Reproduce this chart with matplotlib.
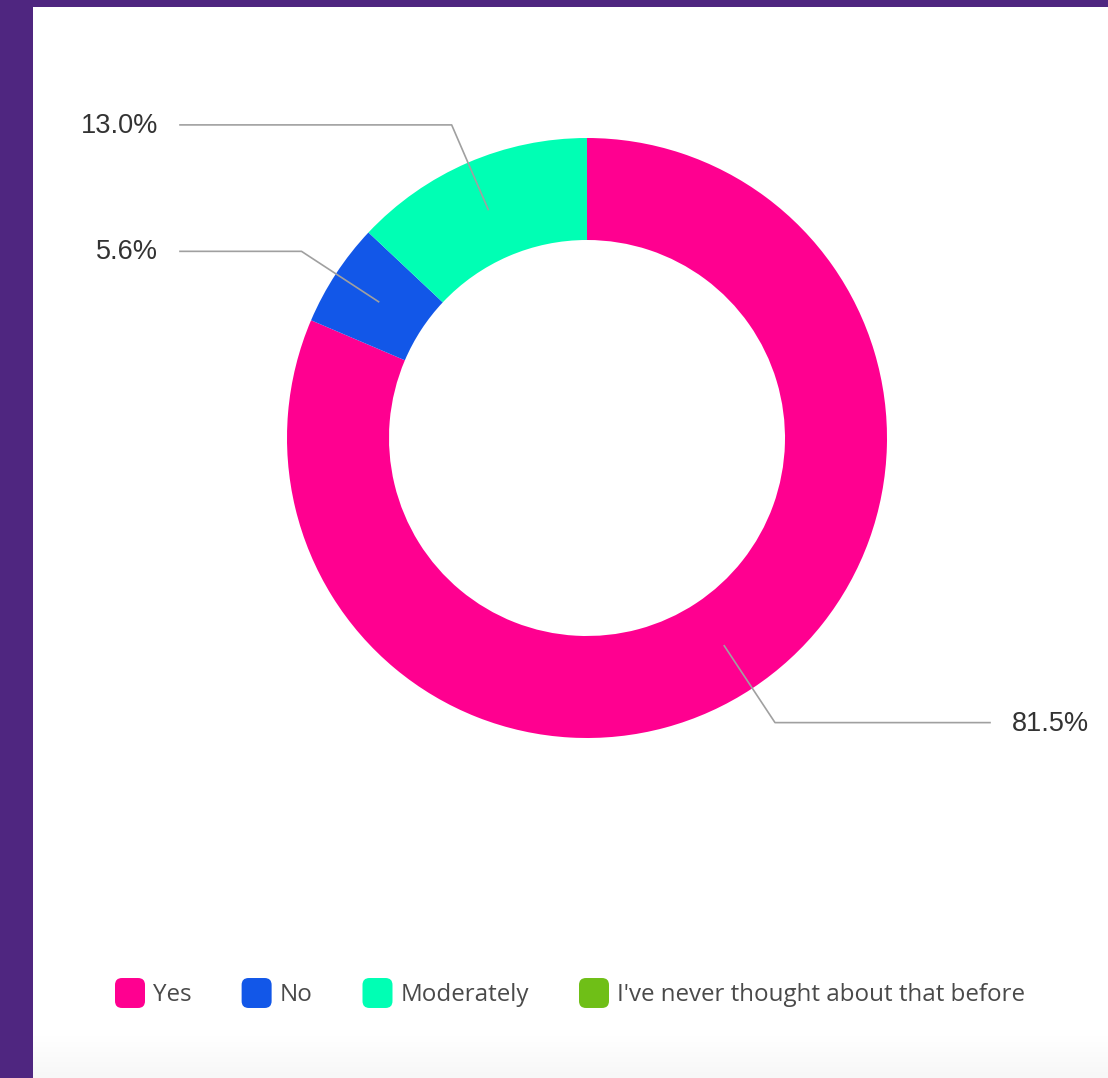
import numpy as np
import matplotlib.pyplot as plt
from matplotlib.patches import Rectangle, FancyBboxPatch
from matplotlib.legend_handler import HandlerPatch
from matplotlib.colors import LinearSegmentedColormap

# data
labels = ['Yes', 'No', 'Moderately', "I've never thought about that before"]
values = [81.5, 5.6, 13.0, 0.0]
colors = ['#FF0090', '#1257E8', '#00FFB4', '#6FBF17']
pct_text = ['81.5%', '5.6%', '13.0%', None]

W, H = 1108, 1078
fig = plt.figure(figsize=(W / 100, H / 100), dpi=100)
fig.patch.set_facecolor('#4F2680')

# white panel (pixels -> figure fraction)
fig.patches.append(Rectangle((33 / W, 0), 1, 1 - 7 / H, transform=fig.transFigure,
                             facecolor='white', edgecolor='none', zorder=-2))

# faint grey fade at the bottom
gax = fig.add_axes([33 / W, 0, 1 - 33 / W, 42 / H], zorder=-1)
grad = np.linspace(0, 1, 64).reshape(-1, 1)
gax.imshow(grad, aspect='auto', origin='lower', extent=(0, 1, 0, 1),
           cmap=LinearSegmentedColormap.from_list('fade', ['#f7f7f7', '#ffffff']))
gax.axis('off')

ax = fig.add_axes([0, 0, 1, 1], zorder=1)
ax.patch.set_alpha(0)

cx, cy = 587, H - 438
R = 300
ring = 102

wedges, _ = ax.pie(values, colors=colors, startangle=90, counterclock=False,
                   center=(cx, cy), radius=R,
                   wedgeprops=dict(width=ring, edgecolor='none', linewidth=0))
ax.set_xlim(0, W)
ax.set_ylim(0, H)
ax.set_aspect('equal')
ax.axis('off')

# leader lines + percentage labels
rmid = R - ring / 2
relb = R * 1.137
for w, txt in zip(wedges, pct_text):
    if txt is None:
        continue
    ang = np.deg2rad((w.theta1 + w.theta2) / 2)
    x0, y0 = cx + rmid * np.cos(ang), cy + rmid * np.sin(ang)
    x1, y1 = cx + relb * np.cos(ang), cy + relb * np.sin(ang)
    if np.cos(ang) < 0:
        x2, tx, ha = 180, 158, 'right'
    else:
        x2, tx, ha = 990, 1012, 'left'
    ax.plot([x0, x1, x2], [y0, y1, y1], color='#a0a0a0', lw=1.2, zorder=5)
    ax.text(tx, y1 - 1, txt, ha=ha, va='center', fontsize=19.5,
            family='Liberation Sans', color='#333333')


class RoundHandler(HandlerPatch):
    def create_artists(self, legend, orig_handle, xdescent, ydescent,
                       width, height, fontsize, trans):
        p = FancyBboxPatch((-xdescent + 3, -ydescent + 3), width - 6, height - 6,
                           boxstyle='round,pad=3,rounding_size=5',
                           facecolor=orig_handle.get_facecolor(), edgecolor='none',
                           transform=trans)
        return [p]


fs = 17.4
px = fs * 100 / 72
leg = fig.legend(wedges, labels, loc='center', bbox_to_anchor=(570 / W, 1 - 993 / H),
                 ncol=4, frameon=False,
                 handler_map={w: RoundHandler() for w in wedges},
                 handlelength=30 / px, handleheight=37 / px,
                 handletextpad=8 / px, columnspacing=50 / px,
                 prop={'family': 'Open Sans', 'size': fs})
for t in leg.get_texts():
    t.set_color('#4a4a4a')

fig.savefig('out.png', dpi=100, facecolor=fig.get_facecolor())
